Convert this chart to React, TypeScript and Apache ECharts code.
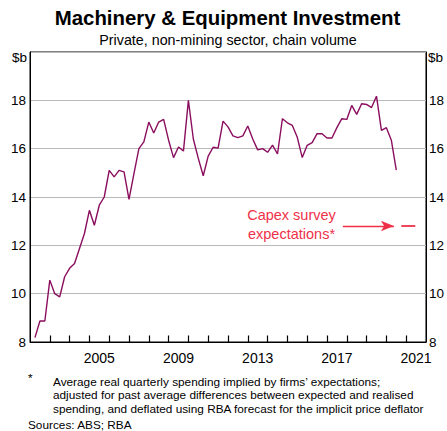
import React, { useEffect, useRef } from "react";
import * as echarts from "echarts";

// Quarterly data, Q1 2002 to Q2 2020 (plotted at end of quarter)
const firstQuarterEnd = 2002.25;
const quarterStep = 0.25;
const investment = [
  8.18, 8.87, 8.87, 10.56, 10.0, 9.87, 10.7, 11.05, 11.25, 11.87,
  12.49, 13.45, 12.83, 13.66, 14.0, 15.1, 14.83, 15.1, 15.04, 13.9,
  14.97, 16.0, 16.28, 17.1, 16.65, 17.1, 17.21, 16.35, 15.63, 16.07,
  15.9, 18.0, 16.4, 15.6, 14.88, 15.69, 16.06, 16.02, 17.14, 16.9,
  16.53, 16.46, 16.53, 16.94, 16.4, 15.95, 16.0, 15.85, 16.15, 15.78,
  17.24, 17.07, 16.96, 16.47, 15.63, 16.14, 16.25, 16.62, 16.62, 16.44,
  16.44, 16.87, 17.24, 17.21, 17.79, 17.42, 17.86, 17.83, 17.7, 18.17,
  16.76, 16.87, 16.35, 15.11,
];
const capexPeriod = [2020.5, 2021.5];
const capexValue = 12.8;
const arrowSpan = [2017.8, 2020.38];
const tickYears = [
  2003, 2004, 2005, 2006, 2007, 2008, 2009, 2010, 2011, 2012,
  2013, 2014, 2015, 2016, 2017, 2018, 2019, 2020, 2021,
];
const yearLabels = [2005, 2009, 2013, 2017, 2021];
const footnoteLines = [
  "Average real quarterly spending implied by firms\u2019 expectations;",
  "adjusted for past average differences between expected and realised",
  "spending, and deflated using RBA forecast for the implicit price deflator",
];

const FONT = "'Liberation Sans', Arial, Helvetica, sans-serif";
const LINE = "#8a0d5e";
const RED = "#ef3049";
const Y_MIN = 8;
const TICK_LEN = 0.27; // tick length in axis units (about 6.5px)

export default function App() {
  const ref = useRef<HTMLDivElement>(null);
  useEffect(() => {
    if (!ref.current) return;
    const chart = echarts.init(ref.current, null, { renderer: "svg" });
    const seriesData = investment.map((v, i) => [firstQuarterEnd + i * quarterStep, v]);
    const yAxisBase = {
      type: "value",
      min: Y_MIN,
      max: 20,
      interval: 2,
      axisLine: { show: true, lineStyle: { color: "#000", width: 1 } },
      axisTick: { show: false },
      splitLine: { show: true, lineStyle: { color: "#b9b9b9", width: 1 } },
      axisLabel: {
        color: "#000",
        fontSize: 13.5,
        fontFamily: FONT,
        formatter: (v: number) => (v >= 20 ? "" : String(v)),
      },
    };
    chart.setOption({
      animation: false,
      backgroundColor: "#fff",
      grid: {
        left: 30,
        right: 21,
        top: 52,
        bottom: 89,
        show: true,
        borderColor: "#000",
        borderWidth: 1,
        backgroundColor: "transparent",
      },
      xAxis: {
        type: "value",
        min: 2002,
        max: 2022,
        interval: 1,
        axisLine: { show: true, onZero: false, lineStyle: { color: "#000", width: 1 } },
        axisTick: { show: false },
        splitLine: { show: false },
        axisLabel: { show: false },
      },
      yAxis: [
        { ...yAxisBase, position: "left", axisLabel: { ...yAxisBase.axisLabel, margin: 4 } },
        { ...yAxisBase, position: "right", splitLine: { show: false }, axisLabel: { ...yAxisBase.axisLabel, margin: 3 } },
      ],
      series: [
        {
          type: "line",
          data: seriesData,
          showSymbol: false,
          symbol: "none",
          lineStyle: { color: LINE, width: 1.4 },
          silent: true,
          z: 3,
          markLine: {
            silent: true,
            symbol: ["none", "none"],
            label: { show: false },
            lineStyle: { color: "#000", width: 1.2, type: "solid" },
            data: tickYears.map((yr) => [
              { coord: [yr, Y_MIN] },
              { coord: [yr, Y_MIN + TICK_LEN] },
            ]),
          },
        },
        {
          type: "line",
          data: [
            [capexPeriod[0], capexValue],
            [capexPeriod[1], capexValue],
          ],
          symbol: "none",
          showSymbol: false,
          lineStyle: { color: RED, width: 1.8, type: [14, 6], dashOffset: 14.6 },
          silent: true,
          markLine: {
            silent: true,
            symbol: ["none", "arrow"],
            symbolSize: [8, 13],
            label: { show: false },
            lineStyle: { color: RED, width: 1.4, type: "solid" },
            data: [
              [
                { coord: [arrowSpan[0], capexValue], symbol: "none" },
                { coord: [arrowSpan[1], capexValue], symbol: "arrow" },
              ],
            ],
          },
        },
      ],
    });

    const px = (x: number, y: number) =>
      chart.convertToPixel({ xAxisIndex: 0, yAxisIndex: 0 }, [x, y]) as number[];

    const labelEls = yearLabels.map((yr) => {
      const p = px(yr + 0.5, Y_MIN);
      return {
        type: "text",
        silent: true,
        x: p[0],
        y: p[1] + 9,
        style: {
          text: String(yr),
          fontSize: 14,
          fontFamily: FONT,
          fill: "#000",
          align: "center",
          verticalAlign: "top",
        },
      };
    });

    const txt = (text: string, x: number, y: number, size: number, align: string, extra: any = {}) => ({
      type: "text",
      silent: true,
      x,
      y,
      style: { text, fontSize: size, fontFamily: FONT, fill: "#000", align, verticalAlign: "middle", ...extra },
    });

    chart.setOption({
      graphic: [
        txt("Machinery & Equipment Investment", 227.5, 18, 20.4, "center", { fontWeight: "bold" }),
        txt("Private, non-mining sector, chain volume", 228, 40, 14.3, "center"),
        txt("$b", 27, 57, 13.5, "right"),
        txt("$b", 428, 57, 13.5, "left"),
        txt("Capex survey", 291.5, 215, 14.5, "center", { fill: RED }),
        txt("expectations*", 291.5, 233.5, 14.5, "center", { fill: RED }),
        txt("*", 28, 378, 11.8, "left"),
        ...footnoteLines.map((t, i) => txt(t, 53, 381.5 + i * 13.5, 11.8, "left")),
        txt("Sources: ABS; RBA", 28, 425, 11.8, "left"),
        ...labelEls,
      ],
    });
    return () => chart.dispose();
  }, []);
  return (
    <div
      ref={ref}
      style={{ position: "absolute", left: 0, top: 0, width: 447, height: 431, background: "#fff" }}
    />
  );
}
